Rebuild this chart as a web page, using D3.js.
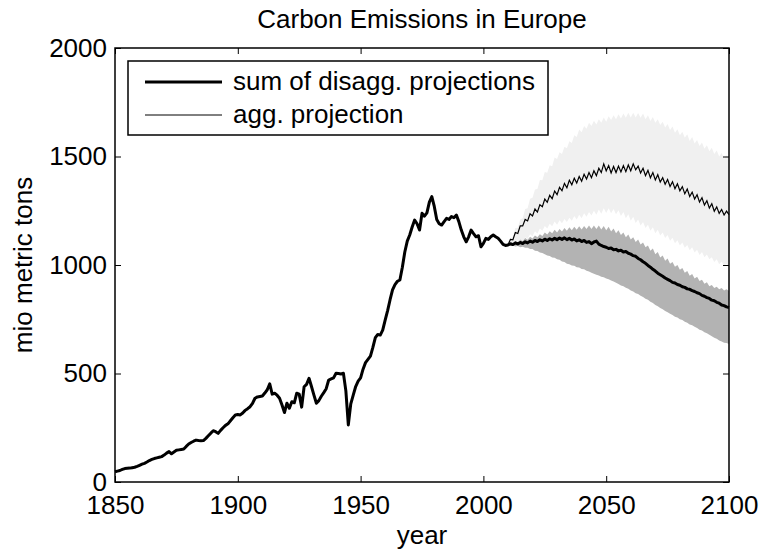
<!DOCTYPE html>
<html>
<head>
<meta charset="utf-8">
<script src="https://cdn.jsdelivr.net/npm/d3@7"></script>
<style>
  body { margin: 0; background: #fff; }
  text { font-family: "Liberation Sans", Arial, Helvetica, sans-serif; }
</style>
</head>
<body>
<div id="chart"></div>
<script>
// observed emissions, one value per year from 1850 to 2009
var histStart = 1850;
var histValues = [
  47, 50, 53, 58, 62, 63, 64, 66, 68, 72,
  77, 82, 86, 92, 99, 104, 108, 111, 114, 117,
  124, 133, 140, 130, 138, 146, 148, 150, 152, 164,
  175, 182, 188, 193, 191, 190, 191, 201, 213, 225,
  236, 232, 224, 238, 250, 261, 268, 282, 296, 309,
  311, 309, 318, 330, 338, 347, 362, 386, 392, 394,
  396, 410, 425, 452, 405, 409, 400, 386, 355, 320,
  363, 340, 370, 365, 409, 405, 345, 439, 450, 478,
  440, 400, 363, 375, 395, 412, 430, 470, 475, 480,
  501, 500, 498, 501, 420, 263, 360, 400, 440, 465,
  480, 520, 550, 565, 580, 620, 665, 680, 677, 700,
  746, 790, 840, 885, 910, 925, 931, 990, 1060, 1110,
  1138, 1175, 1207, 1190, 1161, 1238, 1225, 1240, 1290, 1315,
  1270, 1210, 1190, 1184, 1200, 1215, 1210, 1223, 1218, 1230,
  1200, 1161, 1130, 1107, 1130, 1161, 1145, 1130, 1135, 1084,
  1100, 1123, 1118, 1130, 1138, 1130, 1123, 1110, 1095, 1090
];

// projections, one value per year from 2010 to 2100
var projStart = 2010;
var disaggValues = [
  1092, 1098, 1094, 1102, 1097, 1104, 1099, 1107, 1102, 1110,
  1105, 1113, 1108, 1116, 1111, 1119, 1113, 1121, 1115, 1123,
  1117, 1124, 1118, 1125, 1117, 1123, 1115, 1120, 1111, 1116,
  1108, 1113, 1104, 1108, 1098, 1106, 1110, 1096, 1090, 1085,
  1082, 1076, 1078, 1070, 1072, 1065, 1068, 1060, 1062, 1054,
  1050, 1043, 1040, 1030, 1024, 1015, 1008, 998, 990, 980,
  972, 962, 955, 948, 940, 934, 928, 920, 917, 910,
  907, 900, 897, 890, 888, 882, 878, 872, 868, 860,
  856, 850, 846, 838, 835, 828, 824, 816, 813, 807,
  804
];
var disaggUpper = [
  1092, 1102, 1098, 1110, 1104, 1118, 1110, 1124, 1116, 1130,
  1122, 1136, 1128, 1142, 1134, 1150, 1140, 1156, 1146, 1162,
  1150, 1166, 1154, 1170, 1158, 1174, 1160, 1176, 1162, 1178,
  1164, 1180, 1166, 1182, 1166, 1182, 1166, 1182, 1164, 1180,
  1160, 1176, 1154, 1168, 1146, 1160, 1138, 1150, 1128, 1140,
  1118, 1128, 1106, 1118, 1094, 1104, 1082, 1090, 1066, 1076,
  1050, 1060, 1034, 1044, 1020, 1030, 1006, 1014, 992, 1000,
  978, 986, 964, 972, 950, 958, 938, 946, 926, 932,
  914, 920, 902, 908, 894, 900, 888, 894, 882, 888,
  880
];
var disaggLower = [
  1092, 1088, 1090, 1085, 1087, 1082, 1084, 1079, 1080, 1074,
  1074, 1066, 1065, 1058, 1055, 1050, 1044, 1042, 1035, 1033,
  1026, 1024, 1016, 1014, 1006, 1004, 998, 996, 990, 988,
  982, 980, 974, 970, 964, 960, 955, 952, 946, 944,
  938, 934, 928, 924, 918, 912, 906, 902, 895, 890,
  882, 878, 870, 866, 858, 852, 845, 840, 831, 825,
  816, 810, 802, 796, 788, 782, 775, 770, 762, 758,
  750, 746, 738, 734, 726, 722, 715, 710, 702, 698,
  690, 685, 678, 672, 665, 660, 652, 648, 642, 640,
  636
];
var aggValues = [
  1092, 1118, 1116, 1150, 1145, 1180, 1180, 1210, 1203, 1236,
  1226, 1258, 1244, 1278, 1269, 1304, 1289, 1321, 1306, 1341,
  1324, 1358, 1342, 1376, 1356, 1391, 1370, 1400, 1378, 1408,
  1386, 1418, 1396, 1426, 1402, 1434, 1412, 1446, 1426, 1466,
  1434, 1458, 1424, 1454, 1426, 1456, 1429, 1458, 1430, 1461,
  1434, 1466, 1439, 1456, 1424, 1446, 1412, 1436, 1402, 1426,
  1392, 1416, 1382, 1402, 1372, 1394, 1362, 1384, 1352, 1374,
  1342, 1361, 1328, 1350, 1316, 1336, 1304, 1324, 1290, 1310,
  1276, 1296, 1262, 1282, 1248, 1268, 1238, 1256, 1230, 1248,
  1232
];
var aggUpper = [
  1092, 1125, 1130, 1170, 1172, 1210, 1215, 1258, 1262, 1305,
  1310, 1348, 1350, 1392, 1390, 1428, 1425, 1460, 1455, 1495,
  1488, 1520, 1512, 1545, 1538, 1570, 1562, 1598, 1590, 1625,
  1612, 1640, 1628, 1655, 1640, 1665, 1648, 1672, 1655, 1680,
  1660, 1685, 1668, 1690, 1672, 1695, 1675, 1698, 1678, 1702,
  1680, 1702, 1680, 1700, 1678, 1698, 1672, 1690, 1664, 1682,
  1655, 1672, 1645, 1660, 1634, 1650, 1622, 1638, 1610, 1626,
  1598, 1614, 1586, 1602, 1572, 1590, 1560, 1576, 1548, 1564,
  1536, 1552, 1524, 1540, 1512, 1528, 1500, 1516, 1490, 1506,
  1485
];
var aggLower = [
  1092, 1100, 1095, 1108, 1102, 1118, 1110, 1128, 1120, 1142,
  1132, 1155, 1145, 1168, 1158, 1180, 1168, 1190, 1178, 1200,
  1186, 1206, 1192, 1212, 1198, 1218, 1204, 1226, 1210, 1232,
  1216, 1238, 1222, 1244, 1228, 1250, 1232, 1256, 1236, 1262,
  1240, 1262, 1238, 1258, 1234, 1252, 1226, 1244, 1216, 1234,
  1204, 1222, 1194, 1210, 1182, 1198, 1170, 1186, 1158, 1174,
  1146, 1162, 1136, 1150, 1124, 1138, 1112, 1126, 1100, 1114,
  1090, 1104, 1080, 1092, 1068, 1082, 1058, 1070, 1046, 1060,
  1036, 1048, 1026, 1036, 1014, 1026, 1004, 1016, 996, 1006,
  988
];

var xTicks = [1850, 1900, 1950, 2000, 2050, 2100];
var yTicks = [0, 500, 1000, 1500, 2000];
var legendLabels = ["sum of disagg. projections", "agg. projection"];

var svgWidth = 761;
var svgHeight = 556;
var margin = { top: 48, right: 32, bottom: 74, left: 115 };
var width = svgWidth - margin.left - margin.right;
var height = svgHeight - margin.top - margin.bottom;
var fontSize = 26;

var svg = d3.select("#chart")
  .append("svg")
  .attr("width", svgWidth)
  .attr("height", svgHeight);

var chartGroup = svg.append("g")
  .attr("transform", `translate(${margin.left}, ${margin.top})`);

var xScale = d3.scaleLinear().domain([1850, 2100]).range([0, width]);
var yScale = d3.scaleLinear().domain([0, 2000]).range([height, 0]);

// build {year, value} rows
var hist = histValues.map((v, i) => ({ year: histStart + i, value: v }));
var proj = disaggValues.map((v, i) => ({
  year: projStart + i,
  value: v,
  dLo: disaggLower[i],
  dHi: disaggUpper[i],
  agg: aggValues[i],
  aLo: aggLower[i],
  aHi: aggUpper[i]
}));

// confidence bands
chartGroup.append("path")
  .datum(proj)
  .attr("fill", "#f0f0f0")
  .attr("d", d3.area()
    .x(d => xScale(d.year))
    .y0(d => yScale(d.aLo))
    .y1(d => yScale(d.aHi)));

chartGroup.append("path")
  .datum(proj)
  .attr("fill", "#b3b3b3")
  .attr("d", d3.area()
    .x(d => xScale(d.year))
    .y0(d => yScale(d.dLo))
    .y1(d => yScale(d.dHi)));

// lines
var line = d3.line()
  .x(d => xScale(d.year))
  .y(d => yScale(d.value));

chartGroup.append("path")
  .datum(proj.map(d => ({ year: d.year, value: d.agg })))
  .attr("fill", "none")
  .attr("stroke", "#000")
  .attr("stroke-width", 1.2)
  .attr("d", line);

chartGroup.append("path")
  .datum(hist.concat(proj))
  .attr("fill", "none")
  .attr("stroke", "#000")
  .attr("stroke-width", 3)
  .attr("stroke-linejoin", "round")
  .attr("d", line);

// axes, ticks pointing inward on all four sides
function styleAxis(g) {
  g.select(".domain").remove();
  g.selectAll("line").attr("stroke", "#000");
  g.attr("font-size", fontSize)
    .attr("font-family", null);
  g.selectAll("text").attr("fill", "#000");
}

chartGroup.append("g")
  .attr("transform", `translate(0, ${height})`)
  .call(d3.axisBottom(xScale).tickValues(xTicks).tickFormat(d3.format("d"))
    .tickSizeInner(-6).tickSizeOuter(0).tickPadding(14))
  .call(styleAxis);

chartGroup.append("g")
  .call(d3.axisTop(xScale).tickValues(xTicks).tickFormat("")
    .tickSizeInner(-6).tickSizeOuter(0))
  .call(styleAxis);

chartGroup.append("g")
  .call(d3.axisLeft(yScale).tickValues(yTicks).tickFormat(d3.format("d"))
    .tickSizeInner(-6).tickSizeOuter(0).tickPadding(8))
  .call(styleAxis);

chartGroup.append("g")
  .attr("transform", `translate(${width}, 0)`)
  .call(d3.axisRight(yScale).tickValues(yTicks).tickFormat("")
    .tickSizeInner(-6).tickSizeOuter(0))
  .call(styleAxis);

chartGroup.append("rect")
  .attr("width", width)
  .attr("height", height)
  .attr("fill", "none")
  .attr("stroke", "#000")
  .attr("stroke-width", 1.5);

// title and axis labels
svg.append("text")
  .attr("x", margin.left + width / 2)
  .attr("y", 28)
  .attr("text-anchor", "middle")
  .attr("font-size", fontSize)
  .text("Carbon Emissions in Europe");

svg.append("text")
  .attr("x", margin.left + width / 2)
  .attr("y", 544)
  .attr("text-anchor", "middle")
  .attr("font-size", fontSize)
  .text("year");

svg.append("text")
  .attr("transform", `translate(32, ${margin.top + height / 2}) rotate(-90)`)
  .attr("text-anchor", "middle")
  .attr("font-size", fontSize)
  .text("mio metric tons");

// legend
var legend = chartGroup.append("g")
  .attr("transform", "translate(13, 13)");

legend.append("rect")
  .attr("width", 420)
  .attr("height", 74)
  .attr("fill", "#fff")
  .attr("stroke", "#000")
  .attr("stroke-width", 1.5);

legendLabels.forEach(function(label, i) {
  var y = 21 + i * 33;
  legend.append("line")
    .attr("x1", 17)
    .attr("x2", 94)
    .attr("y1", y)
    .attr("y2", y)
    .attr("stroke", "#000")
    .attr("stroke-width", i === 0 ? 3 : 1);
  legend.append("text")
    .attr("x", 105)
    .attr("y", y + 8)
    .attr("font-size", fontSize)
    .text(label);
});
</script>
</body>
</html>
